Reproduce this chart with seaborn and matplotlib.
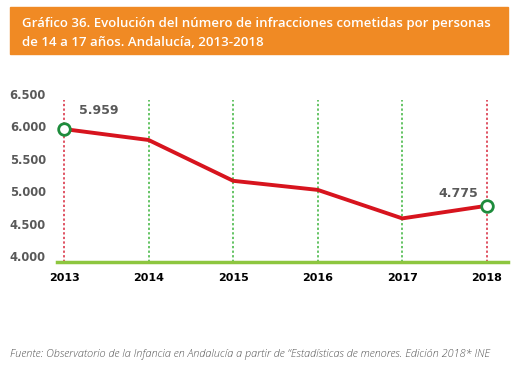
import numpy as np
import pandas as pd
import seaborn as sns
import matplotlib.pyplot as plt
from matplotlib.patches import Rectangle

# data
years = [2013, 2014, 2015, 2016, 2017, 2018]
infracciones = [5959, 5790, 5160, 5020, 4580, 4775]
ytick_vals = [4000, 4500, 5000, 5500, 6000, 6500]
ytick_labels = ['4.000', '4.500', '5.000', '5.500', '6.000', '6.500']
labelled = {2013: '5.959', 2018: '4.775'}

df = pd.DataFrame({'year': years, 'value': infracciones})

sns.set_style('white')
plt.rcParams['font.family'] = ['DejaVu Sans']

W, H = 516, 383
fig = plt.figure(figsize=(W / 100, H / 100), dpi=100)

# orange title banner
fig.patches.append(Rectangle((10 / W, 1 - 54 / H), 498 / W, 47 / H,
                             transform=fig.transFigure, color='#F08A24', zorder=0))
fig.text(22 / W, 1 - 23 / H,
         'Gráfico 36. Evolución del número de infracciones cometidas por personas',
         color='white', fontsize=9.5, family='Open Sans', fontweight='semibold', va='center')
fig.text(22 / W, 1 - 42 / H, 'de 14 a 17 años. Andalucía, 2013-2018',
         color='white', fontsize=9.5, family='Open Sans', fontweight='semibold', va='center')

# axes area in pixels: left 57, right 508, top 94, bottom 262
ax = fig.add_axes([57 / W, 1 - 262 / H, (508 - 57) / W, (262 - 94) / H])

red = '#D7141E'
green_dot = '#3CB43C'
for y in years:
    c = '#D7263A' if y in (2013, 2018) else green_dot
    ax.vlines(y, 3907, 6410, colors=c, linestyles=(0, (1.5, 1.5)), linewidth=1.1, zorder=1)

sns.lineplot(data=df, x='year', y='value', ax=ax, color=red, linewidth=2.8, zorder=3)

ends = df[df['year'].isin(labelled.keys())]
ax.scatter(ends['year'], ends['value'], s=70, facecolor='white',
           edgecolor='#1E8C3C', linewidth=2, zorder=4)

ax.annotate(labelled[2013], (2013, 5959), xytext=(11, 9), textcoords='offset points',
            ha='left', va='bottom', fontsize=9, fontweight='bold', color='#595959')
ax.annotate(labelled[2018], (2018, 4775), xytext=(-6, 4), textcoords='offset points',
            ha='right', va='bottom', fontsize=9, fontweight='bold', color='#595959')

ax.set_xlim(2012.917, 2018.25)
ax.set_ylim(3907, 6500)
ax.set_yticks(ytick_vals)
ax.set_yticklabels(ytick_labels)
ax.set_xticks(years)
ax.set_xticklabels([str(y) for y in years])
ax.tick_params(axis='y', length=0, pad=8, labelsize=8.3, labelcolor='#595959')
ax.tick_params(axis='x', length=0, pad=8, labelsize=8, labelcolor='black')
for lab in ax.get_xticklabels() + ax.get_yticklabels():
    lab.set_fontweight('bold')
ax.set_xlabel('')
ax.set_ylabel('')

for s in ['top', 'right', 'left']:
    ax.spines[s].set_visible(False)
ax.spines['bottom'].set_color('#8DC63F')
ax.spines['bottom'].set_linewidth(2.5)
ax.patch.set_alpha(0)

fig.text(10 / W, 1 - 354 / H,
         'Fuente: Observatorio de la Infancia en Andalucía a partir de “Estadísticas de menores. Edición 2018* INE',
         fontsize=7.8, family='Open Sans', style='italic', fontweight='light', color='#555555', va='center')

fig.savefig('out.png', dpi=100)
